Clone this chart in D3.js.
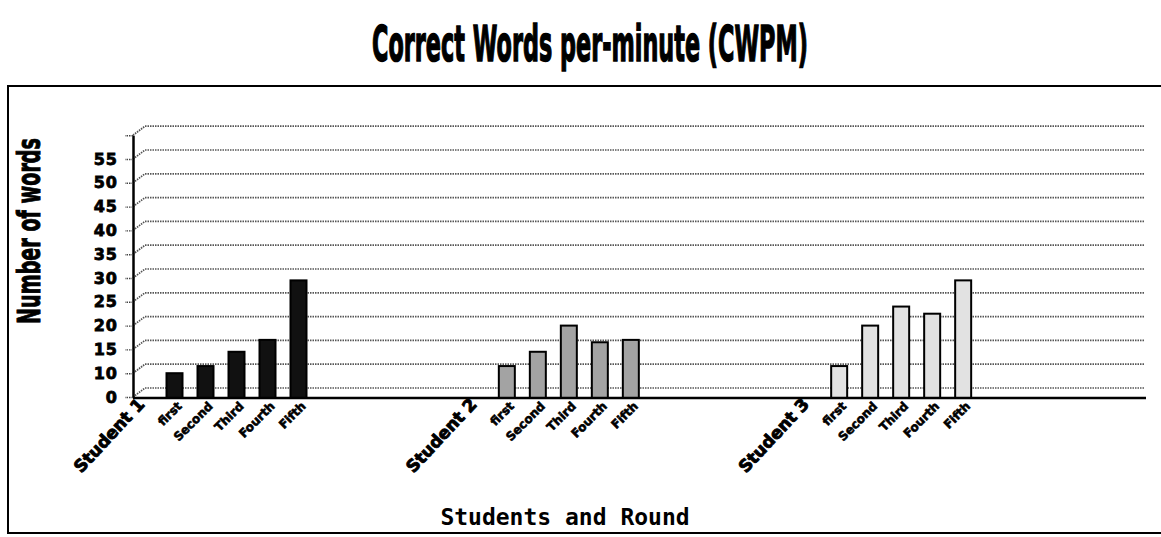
<!DOCTYPE html>
<html>
<head>
<meta charset="utf-8">
<script src="https://cdn.jsdelivr.net/npm/d3@7"></script>
<style>
  body { margin: 0; background: #fff; }
  svg { display: block; }
</style>
</head>
<body>
<svg width="1161" height="537"></svg>
<script>
const students = ["Student 1", "Student 2", "Student 3"];
const rounds = ["first", "Second", "Third", "Fourth", "Fifth"];
const student1 = [10, 11.5, 14.5, 17, 29.5];
const student2 = [11.5, 14.5, 20, 16.5, 17];
const student3 = [11.5, 20, 24, 22.5, 29.5];
const tickValues = [0, 10, 15, 20, 25, 30, 35, 40, 45, 50, 55, 60];
const tickLabels = ["0", "10", "15", "20", "25", "30", "35", "40", "45", "50", "55", ""];

const fills = ["#111", "#a3a3a3", "#e2e2e2"];
const series = [student1, student2, student3];

const AXIS_X = 133;
const BASE_Y = 397;
const STEP = 23.8;
const DEPTH_X = 12, DEPTH_Y = -9;
const RIGHT = 1145;
const SLOT = 31;
const BAR_W = 16;

var svg = d3.select("svg");

// squeeze a text horizontally (in its own frame) to a given width
function squeeze(sel, x, y, width, rotate) {
  var w = sel.node().getComputedTextLength();
  var sx = Math.min(1, width / w);
  sel.attr("transform", "translate(" + x + "," + y + ")" + (rotate ? " rotate(" + rotate + ")" : "") +
                        " scale(" + sx + ",1)");
}

// frame
svg.append("rect")
  .attr("x", 8).attr("y", 86)
  .attr("width", 1170).attr("height", 447)
  .attr("fill", "none").attr("stroke", "#000").attr("stroke-width", 2);

// title
var title = svg.append("text")
  .attr("text-anchor", "middle")
  .style("font-family", "'DejaVu Sans', sans-serif")
  .style("font-weight", "bold").style("font-size", "50px")
  .attr("stroke", "#000").attr("stroke-width", 1.6)
  .text("Correct Words per-minute (CWPM)");
squeeze(title, 590, 61, 436);

// y scale: the printed labels skip 5, so 0 -> 10 is one step
var y = d3.scaleLinear()
  .domain([0, 10, 60])
  .range([BASE_Y, BASE_Y - STEP, BASE_Y - 11 * STEP]);

// x scales
var x0 = d3.scaleBand().domain(students).range([128, 1125]);
var x1 = d3.scaleBand().domain(["label"].concat(rounds)).range([0, SLOT * 6]);

// back wall gridlines
var grid = svg.append("g").attr("class", "grid");
tickValues.forEach(function(v) {
  var yy = y(v);
  grid.append("path")
    .attr("d", "M" + AXIS_X + "," + yy + "L" + (AXIS_X + DEPTH_X) + "," + (yy + DEPTH_Y) +
               "L" + RIGHT + "," + (yy + DEPTH_Y))
    .attr("fill", "none")
    .attr("stroke", "#555")
    .attr("stroke-width", 1.7)
    .attr("stroke-dasharray", "1.5 1");
});

// y axis
var yAxis = d3.axisLeft(y)
  .tickValues(tickValues)
  .tickFormat(function(d, i) { return tickLabels[i]; })
  .tickSize(8)
  .tickSizeOuter(0)
  .tickPadding(7);

var yg = svg.append("g")
  .attr("transform", "translate(" + AXIS_X + ",0)")
  .call(yAxis);
yg.select(".domain").attr("stroke-width", 2.5);
yg.selectAll(".tick line").attr("stroke", "#444").attr("stroke-width", 1.4).attr("stroke-dasharray", "1.5 1");
yg.selectAll(".tick text")
  .style("font-family", "'DejaVu Sans', sans-serif")
  .style("font-weight", "bold")
  .style("font-size", "16px")
  .style("letter-spacing", "1px")
  .attr("stroke", "#000").attr("stroke-width", 0.8)
  .attr("fill", "#000");

// bars
var bars = svg.append("g").attr("class", "bars");
students.forEach(function(s, si) {
  bars.selectAll(".bar-" + si)
    .data(series[si])
    .enter().append("rect")
      .attr("x", function(d, i) { return x0(s) + x1(rounds[i]) + (SLOT - BAR_W) / 2; })
      .attr("y", function(d) { return y(d); })
      .attr("width", BAR_W)
      .attr("height", function(d) { return BASE_Y + 1 - y(d); })
      .attr("fill", fills[si])
      .attr("stroke", "#000")
      .attr("stroke-width", 2);
});

// baseline
svg.append("line")
  .attr("x1", AXIS_X).attr("x2", RIGHT + 1)
  .attr("y1", BASE_Y + 1).attr("y2", BASE_Y + 1)
  .attr("stroke", "#000").attr("stroke-width", 2.5);

// category labels, rotated
var labels = svg.append("g").attr("class", "xlabels");
students.forEach(function(s) {
  var lx = x0(s) + x1("label") + SLOT / 2;
  labels.append("text")
    .attr("transform", "translate(" + (lx + 2) + "," + (BASE_Y + 8) + ") rotate(-47)")
    .attr("text-anchor", "end")
    .style("font-family", "'DejaVu Sans', sans-serif")
    .style("font-weight", "bold")
    .style("font-size", "17px")
    .attr("stroke", "#000").attr("stroke-width", 0.9)
    .text(s);
  rounds.forEach(function(r) {
    var rx = x0(s) + x1(r) + SLOT / 2;
    labels.append("text")
      .attr("transform", "translate(" + (rx + 8) + "," + (BASE_Y + 10) + ") rotate(-45)")
      .attr("text-anchor", "end")
      .style("font-family", "'DejaVu Sans', sans-serif")
      .style("font-weight", "bold")
      .style("font-size", "12px")
      .attr("stroke", "#000").attr("stroke-width", 0.6)
      .text(r);
  });
});

// axis titles
var ylab = svg.append("text")
  .attr("text-anchor", "middle")
  .style("font-family", "'DejaVu Sans', sans-serif")
  .style("font-weight", "bold").style("font-size", "32px")
  .attr("stroke", "#000").attr("stroke-width", 1)
  .text("Number of words");
squeeze(ylab, 40, 231, 186, -90);

svg.append("text")
  .attr("x", 565).attr("y", 525)
  .attr("text-anchor", "middle")
  .style("font-family", "'DejaVu Sans Mono', monospace")
  .style("font-weight", "bold").style("font-size", "23px")
  .text("Students and Round");
</script>
</body>
</html>
